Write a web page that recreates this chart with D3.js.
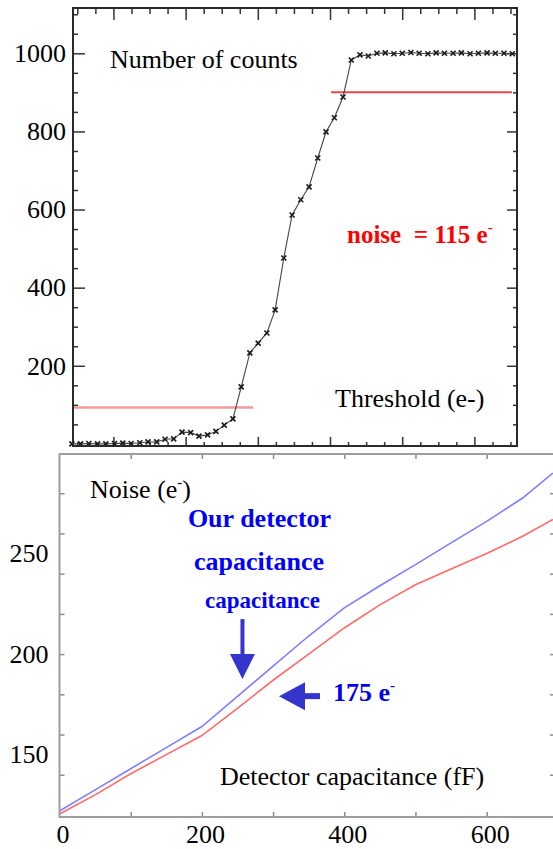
<!DOCTYPE html>
<html>
<head>
<meta charset="utf-8">
<script src="https://cdn.jsdelivr.net/npm/d3@7"></script>
<style>
  body { margin: 0; background: #fff; }
  text { font-family: "Liberation Serif", "Times New Roman", serif; }
</style>
</head>
<body>
<div id="chart"></div>
<script>
// ---- top panel : number of counts vs threshold (S-curve) ----
var thresholds = [1085, 1109, 1132, 1156, 1179, 1203, 1226, 1249, 1273, 1296,
                  1320, 1343, 1367, 1390, 1414, 1437, 1461, 1484, 1507, 1531,
                  1554, 1578, 1601, 1625, 1648, 1672, 1695, 1719, 1742, 1766,
                  1789, 1812, 1836, 1859, 1883, 1906, 1930, 1953, 1977, 2000,
                  2024, 2047, 2071, 2094, 2117, 2141, 2164, 2188, 2211, 2235,
                  2258, 2282, 2305];
var counts = [0, 0, 1, 0, 0, 1, 2, 1, 3,
              5, 5, 12, 13, 30, 29, 20, 23, 32, 48, 64,
              146, 233, 258, 284, 343, 476, 586, 625, 658, 732, 799, 835, 888, 983, 996, 993,
              1000, 1001, 999, 1000, 1002, 1000, 999, 1001, 1000, 1000, 1001, 999, 1000, 1001, 1000, 1000, 999];
var levelFrom = [1088, 1803];   // 10% and 90% level lines
var levelTo = [1587, 2304];
var levelValue = [93, 900];
var countTicks = [200, 400, 600, 800, 1000];

// ---- bottom panel : noise vs detector capacitance ----
var capacitance = [0, 50, 100, 150, 200, 250, 300, 350, 400, 450, 500, 550, 600, 650, 693];
var noiseBlue = [122, 132.5, 143, 153.5, 164, 179, 194, 209, 223, 234, 244.5, 255.3, 266, 277.5, 290];
var noiseRed = [120.5, 130, 140.5, 150, 159.5, 173, 187, 200, 213, 224.5, 234.5, 242.3, 250, 258.5, 267];
var noiseTickLabels = [150, 200, 250];
var capTickLabels = [0, 200, 400, 600];

var serif = '"Liberation Serif", "Times New Roman", serif';

var svg = d3.select("#chart")
            .append("svg")
            .attr("width", 553)
            .attr("height", 849);

// ================= top panel =================
var x1 = d3.scaleLinear().domain([1088, 2318]).range([73, 517]);
var y1 = d3.scaleLinear().domain([-5.4, 1116]).range([446, 8]);

var majorX1 = d3.range(1200, 2301, 200);
var minorX1 = d3.range(1100, 2318, 50).filter(function(v) { return v % 200 != 0; });
var minorY1 = d3.range(50, 1116, 50).filter(function(v) { return v % 200 != 0; });

var upper = svg.append("g").attr("class", "top-panel");

function tickAxis(g, axis, color) {
  g.call(axis);
  g.select(".domain").remove();
  g.selectAll(".tick line").attr("stroke", color).attr("stroke-width", 1.5);
  g.selectAll(".tick text").style("font-family", serif).style("font-size", "26px").attr("fill", "#000");
}

// left ticks + labels
tickAxis(upper.append("g").attr("transform", "translate(73,0)"),
  d3.axisLeft(y1).tickValues(countTicks).tickSize(-12).tickPadding(7).tickFormat(d3.format("d")), "#333");
tickAxis(upper.append("g").attr("transform", "translate(73,0)"),
  d3.axisLeft(y1).tickValues(minorY1).tickSize(-5).tickFormat(""), "#333");
// right ticks
tickAxis(upper.append("g").attr("transform", "translate(517,0)"),
  d3.axisRight(y1).tickValues(countTicks).tickSize(-10).tickFormat(""), "#333");
tickAxis(upper.append("g").attr("transform", "translate(517,0)"),
  d3.axisRight(y1).tickValues(minorY1).tickSize(-4).tickFormat(""), "#333");
// top ticks
tickAxis(upper.append("g").attr("transform", "translate(0,8)"),
  d3.axisTop(x1).tickValues(majorX1).tickSize(-12).tickFormat(""), "#333");
tickAxis(upper.append("g").attr("transform", "translate(0,8)"),
  d3.axisTop(x1).tickValues(minorX1).tickSize(-6).tickFormat(""), "#333");
// bottom ticks
tickAxis(upper.append("g").attr("transform", "translate(0,446)"),
  d3.axisBottom(x1).tickValues(majorX1).tickSize(-9).tickFormat(""), "#333");
tickAxis(upper.append("g").attr("transform", "translate(0,446)"),
  d3.axisBottom(x1).tickValues(minorX1).tickSize(-4).tickFormat(""), "#333");

// level lines (red)
upper.selectAll(".level")
   .data(levelValue)
   .enter()
   .append("line")
   .attr("class", "level")
   .attr("x1", function(d, i) { return x1(levelFrom[i]); })
   .attr("x2", function(d, i) { return x1(levelTo[i]); })
   .attr("y1", function(d) { return y1(d); })
   .attr("y2", function(d) { return y1(d); })
   .attr("stroke", function(d, i) { return i == 0 ? "#f59a9a" : "#e84848"; })
   .attr("stroke-width", function(d, i) { return i == 0 ? 2.5 : 2; });

// S-curve line + markers
var scurve = thresholds.map(function(t, i) { return [t, counts[i]]; });
upper.append("path")
   .datum(scurve)
   .attr("fill", "none")
   .attr("stroke", "#444")
   .attr("stroke-width", 1.1)
   .attr("d", d3.line().x(function(d) { return x1(d[0]); }).y(function(d) { return y1(d[1]); }));

upper.selectAll(".pt")
   .data(scurve)
   .enter()
   .append("path")
   .attr("class", "pt")
   .attr("transform", function(d) { return "translate(" + x1(d[0]) + "," + y1(d[1]) + ")"; })
   .attr("d", d3.symbol().type(d3.symbolTimes).size(18))
   .attr("fill", "none")
   .attr("stroke", "#1a1a1a")
   .attr("stroke-width", 1.6);

// frame
upper.append("rect")
   .attr("x", 73).attr("y", 8)
   .attr("width", 444).attr("height", 438)
   .attr("fill", "none")
   .attr("stroke", "#2a2a2a")
   .attr("stroke-width", 2);

upper.append("text").attr("x", 110).attr("y", 68).attr("font-size", 26).text("Number of counts");
upper.append("text").attr("x", 335).attr("y", 407).attr("font-size", 26).text("Threshold (e-)");
var nz = upper.append("text").attr("x", 347).attr("y", 243)
            .attr("font-size", 25).attr("font-weight", "bold").attr("fill", "#ff0000")
            .style("white-space", "pre");
nz.append("tspan").text("noise  = 115 e");
nz.append("tspan").attr("dy", -11).attr("font-size", 15).text("-");

// ================= bottom panel =================
var x2 = d3.scaleLinear().domain([0, 696]).range([59.5, 555]);
var y2 = d3.scaleLinear().domain([119, 300]).range([817, 453]);

var lower = svg.append("g").attr("class", "bottom-panel");
var ticksY2 = d3.range(140, 300, 20);
var ticksX2 = d3.range(100, 601, 100);

tickAxis(lower.append("g").attr("transform", "translate(59.5,0)"),
  d3.axisLeft(y2).tickValues(ticksY2).tickSize(-5).tickFormat(""), "#8c8c8c");
tickAxis(lower.append("g").attr("transform", "translate(555,0)"),
  d3.axisRight(y2).tickValues(ticksY2).tickSize(-5).tickFormat(""), "#8c8c8c");
tickAxis(lower.append("g").attr("transform", "translate(0,454)"),
  d3.axisTop(x2).tickValues(ticksX2).tickSize(-5).tickFormat(""), "#8c8c8c");
tickAxis(lower.append("g").attr("transform", "translate(0,817)"),
  d3.axisBottom(x2).tickValues(ticksX2).tickSize(-5).tickFormat(""), "#8c8c8c");

// tick labels
tickAxis(lower.append("g").attr("transform", "translate(59.5,0)"),
  d3.axisLeft(y2).tickValues(noiseTickLabels).tickSize(0).tickPadding(11), "none");
tickAxis(lower.append("g").attr("transform", "translate(3,817)"),
  d3.axisBottom(x2).tickValues(capTickLabels).tickSize(0).tickPadding(8), "none");

// noise curves
var lineNoise = d3.line()
                  .x(function(d, i) { return x2(capacitance[i]); })
                  .y(function(d) { return y2(d); });
lower.append("path").datum(noiseRed).attr("fill", "none")
   .attr("stroke", "#ff6a6a").attr("stroke-width", 1.6).attr("d", lineNoise);
lower.append("path").datum(noiseBlue).attr("fill", "none")
   .attr("stroke", "#7f7fff").attr("stroke-width", 1.6).attr("d", lineNoise);

// frame (right side runs off the picture)
lower.append("rect")
   .attr("x", 59.5).attr("y", 454)
   .attr("width", 495.5).attr("height", 363)
   .attr("fill", "none")
   .attr("stroke", "#9e9e9e")
   .attr("stroke-width", 2);

// arrows
var arrowCol = "#3535cc";
var dx = x2(257), dTip = y2(187.6);
lower.append("line").attr("x1", dx).attr("x2", dx).attr("y1", y2(217.4)).attr("y2", dTip - 24)
   .attr("stroke", arrowCol).attr("stroke-width", 4);
lower.append("path").attr("fill", arrowCol)
   .attr("d", "M" + (dx - 12.5) + "," + (dTip - 25) + "L" + (dx + 12.5) + "," + (dTip - 25) + "L" + dx + "," + dTip + "Z");

var lTip = x2(308.3), ly = y2(179.1);
lower.append("line").attr("x1", lTip + 25).attr("x2", x2(365.9)).attr("y1", ly).attr("y2", ly)
   .attr("stroke", arrowCol).attr("stroke-width", 6);
lower.append("path").attr("fill", arrowCol)
   .attr("d", "M" + lTip + "," + ly + "L" + (lTip + 26) + "," + (ly - 14) + "L" + (lTip + 26) + "," + (ly + 14) + "Z");

// texts
var nt = lower.append("text").attr("x", 90).attr("y", 498).attr("font-size", 26);
nt.append("tspan").text("Noise (e");
nt.append("tspan").attr("dy", -11).attr("font-size", 15).text("-");
nt.append("tspan").attr("dy", 11).text(")");

lower.append("text").attr("x", 259.5).attr("y", 527).attr("text-anchor", "middle")
   .attr("font-size", 26).attr("font-weight", "bold").attr("fill", "#0000ff").text("Our detector");
lower.append("text").attr("x", 259).attr("y", 570).attr("text-anchor", "middle")
   .attr("font-size", 26).attr("font-weight", "bold").attr("fill", "#0000ff").text("capacitance");
lower.append("text").attr("x", 262.5).attr("y", 608).attr("text-anchor", "middle")
   .attr("font-size", 23).attr("font-weight", "bold").attr("fill", "#0000ff").text("capacitance");

var t175 = lower.append("text").attr("x", 333).attr("y", 701)
              .attr("font-size", 26).attr("font-weight", "bold").attr("fill", "#0000ee");
t175.append("tspan").text("175 e");
t175.append("tspan").attr("dy", -11).attr("font-size", 15).text("-");

lower.append("text").attr("x", 220).attr("y", 785).attr("font-size", 26).text("Detector capacitance (fF)");
</script>
</body>
</html>
